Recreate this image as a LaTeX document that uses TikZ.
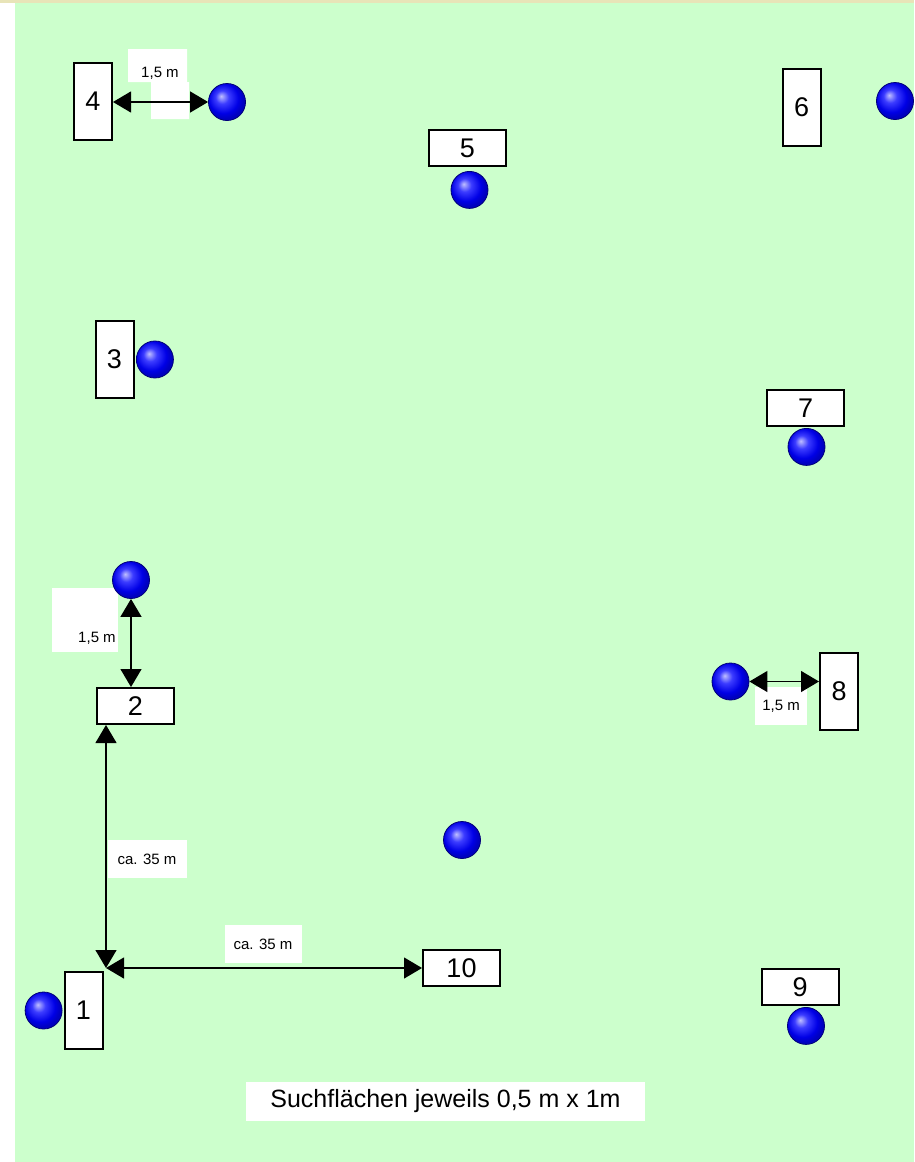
\documentclass[tikz,border=0pt]{standalone}
\usepackage{fontspec}
\setmainfont{Liberation Sans}
\usetikzlibrary{arrows.meta,positioning}
\definecolor{lawn}{RGB}{204,255,204}
\definecolor{topband}{RGB}{232,228,184}
\definecolor{ballblue}{RGB}{60,60,255}
\definecolor{ballrim}{RGB}{0,0,120}
\pgfdeclareradialshading{globe}{\pgfpoint{-8bp}{8bp}}{%
  color(0bp)=(white!75!blue); color(9bp)=(ballblue);
  color(20bp)=(blue!90!black); color(26bp)=(blue!75!black);
  color(50bp)=(blue!75!black)}
\tikzset{
  plotv/.style={draw=black, line width=2pt, fill=white, inner sep=0pt,
                minimum width=38pt, minimum height=77pt,
                font=\fontsize{27}{32}\selectfont},
  ploth/.style={plotv, minimum width=77pt, minimum height=36pt},
  sphere/.style={circle, shading=globe, draw=ballrim, line width=0.8pt,
                 minimum size=37pt, inner sep=0pt},
  measure/.style={{Triangle[length=18pt,width=21pt]}-{Triangle[length=18pt,width=21pt]},
                  line width=1.2pt, draw=black},
  tag/.style={fill=white, inner sep=0pt, font=\fontsize{15}{18}\selectfont}
}

\begin{document}
\begin{tikzpicture}[x=1pt, y=-1pt, node distance=2pt]
  % background
  \useasboundingbox (0,0) rectangle (914,1162);
  \fill[topband] (0,0) rectangle (914,3);
  \fill[white] (0,3) rectangle (15,1162);
  \fill[lawn] (15,3) rectangle (914,1162);

  % white label patches
  \fill[white] (128,49) rectangle (187,82) (151,82) rectangle (189,119);
  \fill[white] (52,588) rectangle (118,652);
  \node[tag] (lab4) at (160,73) {1,5 m};
  \node[tag] (lab2) at (97,638) {1,5 m};
  \node[tag, minimum width=52pt, minimum height=38pt] (lab8) at (781,706) {1,5 m};
  \node[tag, minimum width=79pt, minimum height=38pt] (labv) at (147,859) {ca. 35 m};
  \node[tag, minimum width=77pt, minimum height=38pt] (labh) at (263,944) {ca. 35 m};

  % search plots
  \node[plotv] (box1) at (83.5,1010.5) {1};
  \node[ploth] (box2) at (135.5,706) {2};
  \node[plotv] (box3) at (114.5,359.5) {3};
  \node[plotv] (box4) at (93,101) {4};
  \node[ploth] (box5) at (467.5,148) {5};
  \node[plotv] (box6) at (801.5,107) {6};
  \node[ploth] (box7) at (805.5,408) {7};
  \node[plotv] (box8) at (839,691) {8};
  \node[ploth] (box9) at (800,987) {9};
  \node[ploth] (box10) at (461.5,968) {10};

  % balls
  \node[sphere, left=1pt of box1] (ball1) {};
  \node[sphere] (ball2) at (131,580) {};
  \node[sphere, right=1.5pt of box3] (ball3) {};
  \node[sphere] (ball4) at (227,102) {};
  \node[sphere, below=4pt of box5, xshift=2pt] (ball5) {};
  \node[sphere] (ball6) at (895,101) {};
  \node[sphere, below=1pt of box7, xshift=1pt] (ball7) {};
  \node[sphere] (ball8) at (730.5,681.5) {};
  \node[sphere, below=1pt of box9, xshift=6pt] (ball9) {};
  \node[sphere] (ballmid) at (462,840) {};

  % distances
  \coordinate (corner) at (106,968);
  \draw[measure] (box4.east |- ball4) -- (ball4);
  \draw[measure] (ball2) -- (ball2 |- box2.north);
  \draw[measure] (ball8) -- (box8.west |- ball8);
  \draw[measure] (corner |- box2.south) -- (corner);
  \draw[measure] (corner) -- (box10);

  \node[tag, minimum width=399pt, minimum height=39pt,
        font=\fontsize{25}{30}\selectfont] (note) at (445.5,1101.5)
        {Suchflächen jeweils 0,5 m x 1m};
\end{tikzpicture}
\end{document}
